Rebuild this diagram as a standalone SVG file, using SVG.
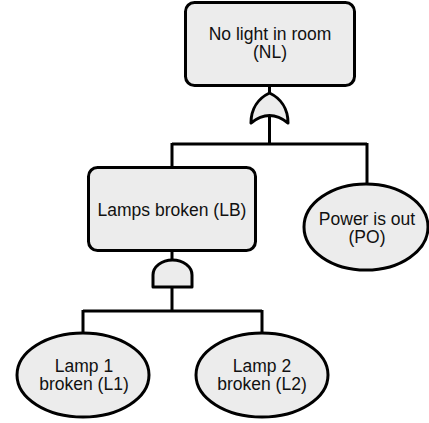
<svg xmlns="http://www.w3.org/2000/svg" width="429" height="423" viewBox="0 0 429 423">
<style>
.n{fill:#ececec;stroke:#000;stroke-width:3}
.c{fill:none;stroke:#000;stroke-width:3}
.g{fill:#ececec;stroke:#000;stroke-width:3;stroke-linejoin:round}
text{font-family:"Liberation Sans",Arial,sans-serif;font-size:17.5px;fill:#111;text-anchor:middle}
</style>
<rect width="429" height="423" fill="#fff"/>
<g id="connectors">
<path class="c" d="M269.5 86 V93 M269.5 115 V144 M172 144 H367 M172 143 V167 M367 143 V184"/>
<path class="c" d="M172 252 V260 M172 287 V311 M83 311 H262 M83 310 V334 M262 310 V334"/>
</g>
<g id="gate-or">
<path class="g" d="M251 123 C251 108 259 98 269.5 93 C280 98 288 108 288 123 Q269.5 108 251 123 Z"/>
</g>
<g id="gate-and">
<path class="g" d="M153 287 V275 A19.5 15 0 0 1 192 275 V287 Z"/>
</g>
<g id="NL">
<rect class="n" x="185.5" y="2.5" width="169" height="83" rx="9"/>
<text x="270" y="39.5">No light in room</text>
<text x="270" y="58">(NL)</text>
</g>
<g id="LB">
<rect class="n" x="88.5" y="167.5" width="167" height="83" rx="9"/>
<text x="172" y="216">Lamps broken (LB)</text>
</g>
<g id="PO">
<ellipse class="n" cx="366" cy="227" rx="62" ry="43"/>
<text x="367" y="225">Power is out</text>
<text x="367" y="243.3">(PO)</text>
</g>
<g id="L1">
<ellipse class="n" cx="83" cy="375" rx="66" ry="42"/>
<text x="84" y="371.7">Lamp 1</text>
<text x="84" y="390">broken (L1)</text>
</g>
<g id="L2">
<ellipse class="n" cx="262" cy="375" rx="66" ry="42"/>
<text x="262" y="371.7">Lamp 2</text>
<text x="262" y="390">broken (L2)</text>
</g>
</svg>
